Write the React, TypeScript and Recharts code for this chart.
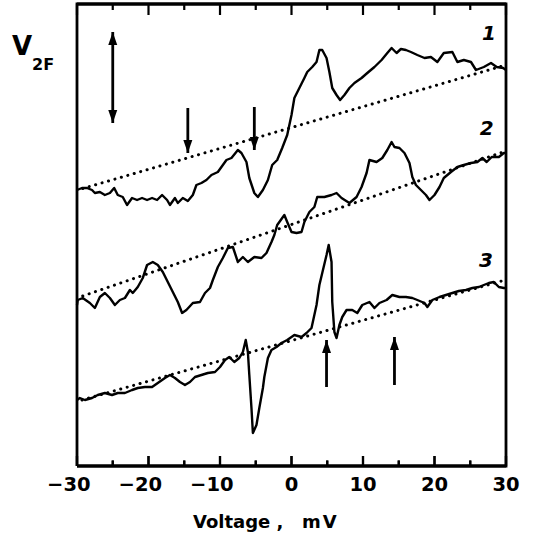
import React from "react";
import { ComposedChart, Line, XAxis, YAxis } from "recharts";

// x in mV, y in arbitrary units (V2F, offset traces)
const CURVE_1: [number, number][] = [
  [-30, 27.6], [-29.3, 27.8], [-28.6, 27.8], [-27.9, 27.6], [-27.5, 27.3], [-26.8, 27.4],
  [-26.1, 27.1], [-25.4, 27.3], [-24.8, 27.8], [-24.3, 27.1], [-23.6, 26.9], [-23.0, 26.1],
  [-22.3, 26.8], [-21.6, 26.6], [-20.9, 26.8], [-20.2, 26.6], [-19.5, 26.8], [-18.8, 26.6],
  [-18.1, 27.1], [-17.4, 26.6], [-17.0, 26.1], [-16.3, 26.8], [-15.9, 26.3], [-15.2, 26.8],
  [-14.5, 26.5], [-13.8, 27.1], [-13.3, 28.1], [-12.6, 28.3], [-11.9, 28.6], [-11.2, 29.1],
  [-10.3, 29.4], [-9.6, 30.1], [-9.1, 30.6], [-8.4, 30.8], [-7.5, 31.6], [-7.0, 31.3],
  [-6.3, 30.4], [-5.9, 28.8], [-5.2, 27.3], [-4.7, 26.9], [-4.0, 27.6], [-3.3, 28.6],
  [-2.7, 30.1], [-2.0, 30.6], [-1.3, 31.8], [-0.6, 33.1], [0.0, 35.1], [0.4, 36.8],
  [1.1, 37.8], [1.8, 38.8], [2.2, 39.4], [2.9, 39.9], [3.5, 40.4], [3.9, 41.6],
  [4.3, 41.6], [4.9, 40.8], [5.3, 39.4], [5.7, 37.8], [6.3, 37.1], [6.8, 36.6],
  [7.4, 37.1], [8.1, 37.8], [8.8, 38.3], [9.8, 38.8], [10.6, 39.3], [11.6, 39.9],
  [12.6, 40.6], [13.4, 41.3], [14.0, 41.8], [14.7, 41.3], [15.3, 41.7], [16.0, 41.6],
  [16.7, 41.4], [17.6, 41.1], [18.6, 40.8], [19.5, 40.9], [20.4, 40.4], [21.3, 41.3],
  [22.5, 41.4], [23.2, 40.4], [24.1, 40.6], [25.1, 40.4], [25.8, 39.6], [26.9, 39.9],
  [27.9, 40.3], [28.7, 39.9], [29.6, 39.8], [30, 39.6],
];

const CURVE_2: [number, number][] = [
  [-30, 16.1], [-29.9, 16.6], [-29.2, 16.8], [-28.2, 16.3], [-27.5, 15.8], [-26.8, 16.9],
  [-26.1, 17.3], [-25.4, 16.8], [-24.7, 16.1], [-24.0, 16.6], [-23.3, 16.8], [-22.6, 17.6],
  [-22.2, 17.3], [-21.5, 17.9], [-20.8, 18.8], [-20.2, 20.1], [-19.4, 20.4], [-18.7, 20.1],
  [-18.0, 19.4], [-17.3, 18.4], [-16.6, 17.4], [-15.9, 16.4], [-15.3, 15.3], [-14.7, 15.6],
  [-13.8, 16.3], [-12.8, 16.4], [-12.1, 17.3], [-11.4, 17.8], [-11.0, 18.6], [-10.3, 19.9],
  [-9.6, 20.8], [-8.9, 21.8], [-8.2, 21.9], [-7.5, 20.4], [-6.8, 20.9], [-6.1, 20.4],
  [-5.2, 20.9], [-4.2, 20.8], [-3.5, 21.3], [-2.8, 22.4], [-2.4, 23.1], [-2.0, 24.1],
  [-1.0, 25.1], [-0.6, 24.4], [0.0, 23.4], [0.7, 23.3], [1.4, 23.4], [1.8, 24.4],
  [2.5, 25.4], [3.2, 25.9], [3.6, 26.9], [4.6, 26.9], [5.6, 27.1], [6.3, 27.3],
  [7.0, 26.8], [8.1, 26.3], [9.1, 26.9], [9.8, 27.9], [10.5, 29.3], [10.9, 30.6],
  [11.9, 30.4], [12.7, 30.8], [13.4, 31.6], [14.0, 32.4], [14.4, 31.9], [15.1, 31.8],
  [15.8, 31.3], [16.5, 30.3], [16.9, 28.9], [17.4, 28.1], [18.1, 27.6], [18.8, 27.1],
  [19.3, 26.6], [20.0, 27.1], [20.7, 27.9], [21.3, 28.8], [22.3, 29.4], [23.2, 29.9],
  [24.1, 30.1], [25.1, 30.3], [26.0, 30.4], [26.7, 30.8], [27.3, 30.4], [28.0, 30.9],
  [29.0, 30.9], [29.7, 31.3], [30, 31.3],
];

const CURVE_3: [number, number][] = [
  [-30, 6.6], [-29.6, 6.8], [-28.9, 6.6], [-27.9, 6.8], [-27.1, 7.1], [-26.1, 7.3],
  [-25.1, 7.1], [-24.3, 7.3], [-23.3, 7.3], [-22.3, 7.6], [-21.5, 7.8], [-20.5, 7.9],
  [-19.5, 7.9], [-18.7, 8.3], [-17.7, 8.8], [-17.0, 9.1], [-16.3, 8.8], [-15.6, 8.4],
  [-14.9, 8.1], [-14.2, 8.4], [-13.5, 8.9], [-12.6, 9.1], [-11.7, 9.3], [-10.7, 9.4],
  [-10.0, 9.9], [-9.3, 10.6], [-8.7, 10.9], [-8.0, 10.4], [-7.3, 10.8], [-6.8, 11.4],
  [-6.4, 12.6], [-6.1, 11.4], [-5.9, 9.1], [-5.6, 5.8], [-5.4, 3.3], [-4.9, 4.1],
  [-4.5, 5.8], [-4.0, 7.8], [-3.8, 8.9], [-3.3, 10.8], [-2.8, 11.6], [-2.1, 11.9],
  [-1.4, 12.3], [-0.6, 12.6], [0.4, 13.1], [1.4, 12.9], [2.1, 13.3], [2.8, 13.8],
  [3.5, 16.1], [3.9, 18.1], [4.3, 19.3], [4.9, 21.1], [5.2, 22.1], [5.6, 20.4],
  [5.7, 16.4], [6.0, 13.4], [6.3, 12.8], [6.7, 14.1], [7.1, 14.9], [7.7, 15.6],
  [8.5, 15.6], [9.2, 15.3], [9.9, 16.1], [10.9, 16.4], [11.6, 15.8], [12.3, 16.3],
  [13.3, 16.6], [14.1, 17.1], [15.1, 16.9], [16.0, 16.9], [16.9, 16.8], [17.6, 16.6],
  [18.6, 16.3], [19.0, 15.9], [19.7, 16.6], [20.7, 16.9], [21.6, 17.1], [22.5, 17.3],
  [23.4, 17.5], [24.4, 17.6], [25.3, 17.8], [26.2, 17.9], [26.9, 18.1], [27.6, 18.3],
  [28.3, 18.4], [29.0, 17.9], [29.7, 17.8], [30, 17.8],
];

// dotted baselines
const BASE_1: [number, number][] = [[-29.2, 27.75], [29.5, 40.0]];
const BASE_2: [number, number][] = [[-29.2, 17.0], [29.4, 31.35]];
const BASE_3: [number, number][] = [[-29.3, 6.6], [29.4, 18.5]];

// arrows: x position, tail and tip values
const ARROW_X = [-25, -14.5, -5.2, 4.9, 14.4];
const ARROW_FROM = [34.3, 35.8, 35.9, 7.9, 8.1];
const ARROW_TO = [43.4, 31.3, 31.6, 12.6, 12.9];
const ARROW_DOUBLE = [true, false, false, false, false];

const CURVE_LABELS = ["1", "2", "3"];
const LABEL_X = [27.6, 27.3, 27.2];
const LABEL_Y = [42.6, 33.1, 19.9];

const X_TICKS = [-30, -25, -20, -15, -10, -5, 0, 5, 10, 15, 20, 25, 30];
const X_MIN = -30;
const X_MAX = 30;
const Y_MIN = 0;
const Y_MAX = 46.2;

const toPts = (arr: [number, number][]) => arr.map(([x, y]) => ({ x, y }));

const arrows = ARROW_X.map((x, i) => {
  const up = ARROW_TO[i] > ARROW_FROM[i];
  return [
    { x, y: ARROW_FROM[i], head: ARROW_DOUBLE[i] ? (up ? "down" : "up") : null },
    { x, y: ARROW_TO[i], head: up ? "up" : "down" },
  ];
});

const labels = CURVE_LABELS.map((label, i) => ({ x: LABEL_X[i], y: LABEL_Y[i], label }));

// plot frame and inward tick marks
const frame = [
  { x: X_MIN, y: Y_MIN },
  { x: X_MIN, y: Y_MAX },
  { x: X_MAX, y: Y_MAX },
  { x: X_MAX, y: Y_MIN },
  { x: X_MIN, y: Y_MIN },
];
const tickMarks = X_TICKS.flatMap((v) => {
  const major = v % 10 === 0;
  return [
    [{ x: v, y: Y_MIN }, { x: v, y: Y_MIN + (major ? 1.0 : 0.55) }],
    [{ x: v, y: Y_MAX }, { x: v, y: Y_MAX - (major ? 1.1 : 0.6) }],
  ];
});

const FONT = "'DejaVu Sans', sans-serif";

function BottomTick(props: any) {
  const { x, y, payload } = props;
  const v = payload.value as number;
  const major = v % 10 === 0;
  const digits = String(Math.abs(v)).length;
  return (
    <g>
      <path d={`M${x},${y} V${y - (major ? 10 : 5.5)}`} stroke="#000" strokeWidth={2.2} fill="none" />
      {major && (
        <text
          x={x + (digits * 0.696 * 19.5) / 2}
          y={y + 25}
          textAnchor="end"
          fontFamily={FONT}
          fontWeight="bold"
          fontSize={19.5}
          fill="#000"
        >
          {v < 0 ? `\u2212${Math.abs(v)}` : v}
        </text>
      )}
    </g>
  );
}

function TopTick(props: any) {
  const { x, y, payload } = props;
  const major = payload.value % 10 === 0;
  return <path d={`M${x},${y} V${y + (major ? 11 : 6)}`} stroke="#000" strokeWidth={2.2} fill="none" />;
}

function ArrowHead(props: any) {
  const { cx, cy, payload, key } = props;
  if (!payload || !payload.head) return <g key={key} />;
  const dir = payload.head === "up" ? -1 : 1;
  const w = 4.5;
  const len = 13;
  return (
    <polygon
      key={key}
      points={`${cx},${cy} ${cx - w},${cy - dir * len} ${cx + w},${cy - dir * len}`}
      fill="#000"
    />
  );
}

function LabelDot(props: any) {
  const { cx, cy, payload, key } = props;
  return (
    <text
      key={key}
      x={cx}
      y={cy}
      textAnchor="middle"
      fontFamily={FONT}
      fontWeight="bold"
      fontStyle="italic"
      fontSize={20}
      fill="#000"
    >
      {payload.label}
    </text>
  );
}

const textStyle: React.CSSProperties = {
  position: "absolute",
  fontFamily: FONT,
  fontWeight: "bold",
  lineHeight: 1,
  whiteSpace: "pre",
  color: "#000",
  pointerEvents: "none",
};

const axisStroke = { stroke: "#000", strokeWidth: 2.8 };

export default function App() {
  const curves = [CURVE_1, CURVE_2, CURVE_3];
  const bases = [BASE_1, BASE_2, BASE_3];
  return (
    <div style={{ position: "absolute", left: 0, top: 0, width: 533, height: 550, background: "#fff" }}>
      <ComposedChart width={533} height={550} margin={{ top: 0, right: 27, left: 77, bottom: 0 }}>
        <XAxis
          dataKey="x"
          type="number"
          domain={[X_MIN, X_MAX]}
          ticks={X_TICKS}
          interval={0}
          tick={<BottomTick />}
          tickLine={false}
          tickSize={0}
          tickMargin={0}
          axisLine={axisStroke}
          height={84}
        />
        <XAxis
          xAxisId="top"
          orientation="top"
          dataKey="x"
          type="number"
          domain={[X_MIN, X_MAX]}
          ticks={X_TICKS}
          interval={0}
          tick={<TopTick />}
          tickLine={false}
          tickSize={0}
          tickMargin={0}
          axisLine={axisStroke}
          height={4}
        />
        <YAxis dataKey="y" type="number" domain={[Y_MIN, Y_MAX]} width={0} tick={false} tickLine={false} axisLine={axisStroke} />
        <YAxis
          yAxisId="right"
          orientation="right"
          type="number"
          domain={[Y_MIN, Y_MAX]}
          width={0}
          tick={false}
          tickLine={false}
          axisLine={axisStroke}
        />
        {tickMarks.map((t, i) => (
          <Line
            key={`tick${i}`}
            data={t}
            dataKey="y"
            stroke="#000"
            strokeWidth={2.2}
            dot={false}
            isAnimationActive={false}
          />
        ))}
        <Line data={frame} dataKey="y" stroke="#000" strokeWidth={2.8} dot={false} isAnimationActive={false} />
        {bases.map((b, i) => (
          <Line
            key={`base${i}`}
            data={toPts(b)}
            dataKey="y"
            stroke="#000"
            strokeWidth={3}
            strokeDasharray="0.1 6.6"
            strokeLinecap="round"
            dot={false}
            isAnimationActive={false}
          />
        ))}
        {curves.map((c, i) => (
          <Line
            key={`curve${i}`}
            data={toPts(c)}
            dataKey="y"
            stroke="#000"
            strokeWidth={2.4}
            strokeLinejoin="round"
            dot={false}
            isAnimationActive={false}
          />
        ))}
        {arrows.map((a, i) => (
          <Line
            key={`arrow${i}`}
            data={a}
            dataKey="y"
            stroke="#000"
            strokeWidth={2.8}
            dot={ArrowHead}
            isAnimationActive={false}
          />
        ))}
        <Line data={labels} dataKey="y" stroke="none" dot={LabelDot} isAnimationActive={false} />
      </ComposedChart>
      <span style={{ ...textStyle, left: 12, top: 33, fontSize: 26 }}>V</span>
      <span style={{ ...textStyle, left: 32, top: 56.5, fontSize: 16 }}>2F</span>
      <span style={{ ...textStyle, left: 193, top: 513, fontSize: 18 }}>Voltage ,</span>
      <span style={{ ...textStyle, left: 302, top: 513, fontSize: 18, letterSpacing: 2 }}>mV</span>
    </div>
  );
}
